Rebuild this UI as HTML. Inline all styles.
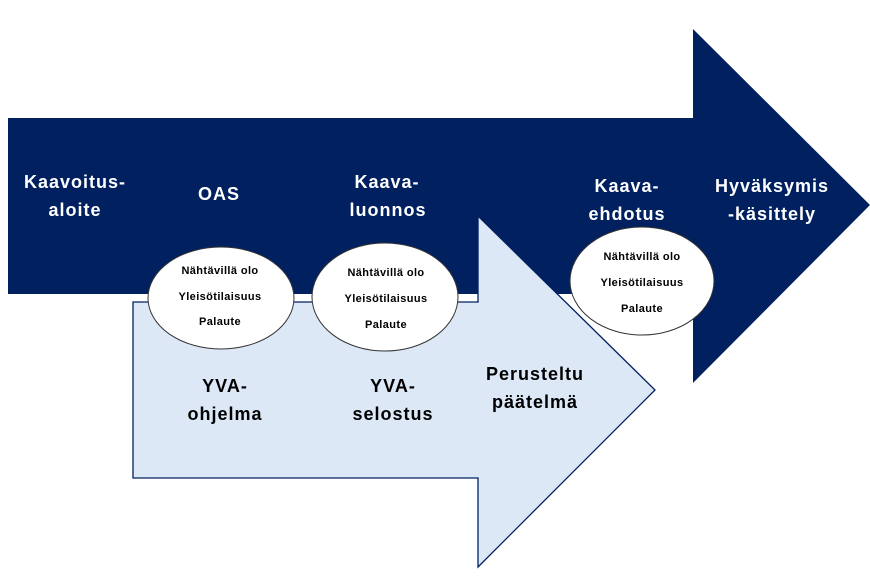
<!DOCTYPE html>
<html><head><meta charset="utf-8"><style>
html,body{margin:0;padding:0;background:#fff;}
svg{display:block;}
text{font-family:"Liberation Sans",sans-serif;font-weight:bold;}
</style></head><body>
<svg width="870" height="584" viewBox="0 0 870 584" xmlns="http://www.w3.org/2000/svg">
<polygon points="8,118 693,118 693,29 870,205 693,383 693,294 8,294" fill="#002060"/>
<rect x="133" y="294" width="345" height="8" fill="#fff"/>
<polygon points="133,302 478,302 478,216 655,390 478,567 478,478 133,478" fill="#dce8f6" stroke="#002060" stroke-width="1.3"/>
<g fill="#fff" stroke="#333" stroke-width="1">
<ellipse cx="221" cy="298" rx="73" ry="51"/>
<ellipse cx="385" cy="297" rx="73" ry="54"/>
<ellipse cx="642" cy="281" rx="72" ry="54"/>
</g>
<g fill="#fff" font-size="18" text-anchor="middle" letter-spacing="1">
<text x="75" y="188">Kaavoitus-</text>
<text x="75" y="216">aloite</text>
<text x="219" y="200">OAS</text>
<text x="387" y="188">Kaava-</text>
<text x="388" y="216">luonnos</text>
<text x="627" y="192">Kaava-</text>
<text x="627" y="220">ehdotus</text>
<text x="772" y="192">Hyväksymis</text>
<text x="772" y="220">-käsittely</text>
</g>
<g fill="#000" font-size="18" text-anchor="middle" letter-spacing="1">
<text x="225" y="392">YVA-</text>
<text x="225" y="420">ohjelma</text>
<text x="393" y="392">YVA-</text>
<text x="393" y="420">selostus</text>
<text x="535" y="380">Perusteltu</text>
<text x="535" y="408">päätelmä</text>
</g>
<g fill="#000" font-size="11" text-anchor="middle" letter-spacing="0.4">
<text x="220" y="274">Nähtävillä olo</text>
<text x="220" y="300">Yleisötilaisuus</text>
<text x="220" y="325">Palaute</text>
<text x="386" y="276">Nähtävillä olo</text>
<text x="386" y="302">Yleisötilaisuus</text>
<text x="386" y="328">Palaute</text>
<text x="642" y="260">Nähtävillä olo</text>
<text x="642" y="286">Yleisötilaisuus</text>
<text x="642" y="312">Palaute</text>
</g>
</svg>
</body></html>
